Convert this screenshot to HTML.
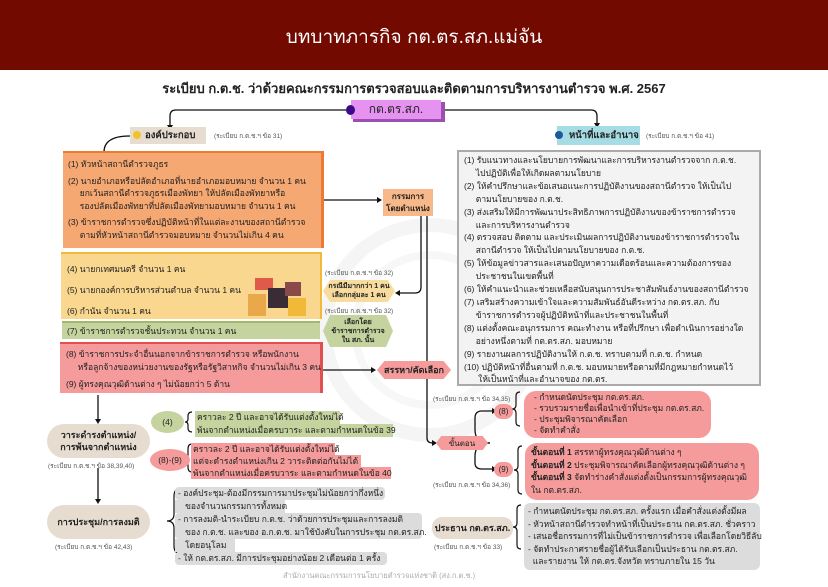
<!DOCTYPE html>
<html><head><meta charset="utf-8">
<style>
*{margin:0;padding:0;box-sizing:border-box}
body{width:828px;height:587px;background:#fff;position:relative;overflow:hidden;font-family:"Liberation Sans","DejaVu Sans",sans-serif;color:#222}
.a{position:absolute;white-space:nowrap}
.t{font-size:8.5px;line-height:12.5px}
.s{font-size:6.5px;color:#555}
.b{font-weight:bold}
.hex{position:absolute;display:flex;align-items:center;justify-content:center;text-align:center;font-weight:bold;font-size:7px;line-height:9px;clip-path:polygon(10% 0,90% 0,100% 50%,90% 100%,10% 100%,0 50%)}
.pill{position:absolute;border-radius:18px;display:flex;align-items:center;justify-content:center;text-align:center;font-weight:bold;font-size:9px;line-height:12px;background:#e6ddd0}
</style></head><body>
<div class="a" style="left:0;top:0;width:828px;height:70px;background:#730a00"></div>
<div class="a" style="left:0;top:22px;width:828px;text-align:center;color:#fff;font-size:19px">บทบาทภารกิจ กต.ตร.สภ.แม่จัน</div>
<div class="a b" style="left:0;top:78px;width:828px;text-align:center;font-size:13px">ระเบียบ ก.ต.ช. ว่าด้วยคณะกรรมการตรวจสอบและติดตามการบริหารงานตำรวจ พ.ศ. 2567</div>

<svg class="a" style="left:0;top:0" width="828" height="587">
<circle cx="430" cy="330" r="105" fill="none" stroke="#f5f5f5" stroke-width="14"/>
<circle cx="430" cy="330" r="75" fill="none" stroke="#f7f7f7" stroke-width="8"/>
<g fill="none" stroke="#111" stroke-width="1.3">
<path d="M351 110 H176 Q170 110 170 116 V126"/>
<path d="M443 110 H591 Q597 110 597 116 V124"/>
<path d="M130 136 Q104 136 104 152"/>
<path d="M322 200 H378"/>
<path d="M421 215 V287 Q421 293 415 293 H398"/>
<path d="M323 370 H372"/>
<path d="M427 215 V438 Q427 443 433 443"/>
<path d="M490 443 Q475 443 475 430 V418 Q475 411 482 411 H493"/>
<path d="M490 443 Q475 443 475 456 V463 Q475 469 482 469 H493"/>
<path d="M98 395 V420"/>
<path d="M98 468 V500"/>
</g>
<g fill="#111">
<path d="M170 130 l-3 -5 h6z"/><path d="M597 128 l-3 -5 h6z"/>
<path d="M382 200 l-5 -3 v6z"/><path d="M395 293 l5 -3 v6z"/>
<path d="M376 370 l-5 -3 v6z"/><path d="M437 443 l-5 -3 v6z"/>
<path d="M497 411 l-5 -3 v6z"/><path d="M497 469 l-5 -3 v6z"/>
<path d="M98 424 l-3 -5 h6z"/><path d="M98 504 l-3 -5 h6z"/>
</g>
<g fill="none" stroke="#111" stroke-width="1.2">
<path d="M192 412 q-4 0 -4 4 v3 q0 3 -3 3 q3 0 3 3 v3 q0 4 4 4"/>
<path d="M192 444 q-4 0 -4 5 v6 q0 3 -3 3 q3 0 3 3 v6 q0 5 4 5"/>
<path d="M182 488 q-8 0 -8 8 v18 q0 7 -7 7 q7 0 7 7 v18 q0 8 8 8"/>
<path d="M520 392 q-4 0 -4 4 v9 q0 4 -4 4 q4 0 4 4 v9 q0 4 4 4"/>
<path d="M522 446 q-4 0 -4 4 v16 q0 4 -4 4 q4 0 4 4 v16 q0 4 4 4"/>
<path d="M521 505 q-4 0 -4 4 v14 q0 4 -4 4 q4 0 4 4 v14 q0 4 4 4"/>
</g>
</svg>

<div class="a" style="left:353px;top:102px;width:92px;height:20px;background:#9b4fb0"></div>
<div class="a" style="left:351px;top:100px;width:90px;height:19px;background:#e592f0;font-size:12px;text-align:center;line-height:19px">กต.ตร.สภ.</div>
<div class="a" style="left:346px;top:105px;width:9px;height:10px;border-radius:50%;background:#3b0a8a"></div>

<div class="a b" style="left:130px;top:127px;width:76px;height:17px;background:#e6ddd0;font-size:9.5px;line-height:17px;padding-left:15px">องค์ประกอบ</div>
<div class="a" style="left:133px;top:131px;width:8px;height:8px;border-radius:50%;background:#f2c12e"></div>
<div class="a s" style="left:214px;top:131px">(ระเบียบ ก.ต.ช.ฯ ข้อ 31)</div>

<div class="a b" style="left:557px;top:126px;width:83px;height:19px;background:#a6dce4;font-size:9.5px;line-height:19px;padding-left:12px">หน้าที่และอำนาจ</div>
<div class="a" style="left:555px;top:131px;width:8px;height:8px;border-radius:50%;background:#1e5a99"></div>
<div class="a s" style="left:646px;top:131px">(ระเบียบ ก.ต.ช.ฯ ข้อ 41)</div>

<div class="a t" style="left:63px;top:151px;width:258px;height:97px;background:#f6a872;border-top:2px solid #ec7a32;box-shadow:3px 0 0 #ec7a32;padding:5px 0 0 5px">(1) หัวหน้าสถานีตำรวจภูธร<br><span style="line-height:4px;display:block;height:4px"></span>(2) นายอำเภอหรือปลัดอำเภอที่นายอำเภอมอบหมาย จำนวน 1 คน<br>&nbsp;&nbsp;&nbsp;&nbsp;&nbsp;ยกเว้นสถานีตำรวจภูธรเมืองพัทยา ให้ปลัดเมืองพัทยาหรือ<br>&nbsp;&nbsp;&nbsp;&nbsp;&nbsp;รองปลัดเมืองพัทยาที่ปลัดเมืองพัทยามอบหมาย จำนวน 1 คน<br><span style="line-height:4px;display:block;height:4px"></span>(3) ข้าราชการตำรวจซึ่งปฏิบัติหน้าที่ในแต่ละงานของสถานีตำรวจ<br>&nbsp;&nbsp;&nbsp;&nbsp;&nbsp;ตามที่หัวหน้าสถานีตำรวจมอบหมาย จำนวนไม่เกิน 4 คน</div>
<div class="a t" style="left:61px;top:252px;width:259px;height:67px;background:#f9d78e;border-top:2px solid #f1b93a;box-shadow:2px 0 0 #f1b93a;padding:5px 0 0 6px;line-height:21px">(4) นายกเทศมนตรี จำนวน 1 คน<br>(5) นายกองค์การบริหารส่วนตำบล จำนวน 1 คน<br>(6) กำนัน จำนวน 1 คน</div>
<div class="a" style="left:255px;top:278px;width:18px;height:12px;background:#e05a4a"></div>
<div class="a" style="left:268px;top:288px;width:20px;height:20px;background:#3a2c35"></div>
<div class="a" style="left:248px;top:294px;width:18px;height:22px;background:#e9a84a"></div>
<div class="a" style="left:285px;top:282px;width:16px;height:14px;background:#8a4a4a"></div>
<div class="a" style="left:288px;top:298px;width:18px;height:18px;background:#f1b93a"></div>
<div class="a t" style="left:62px;top:321px;width:258px;height:18px;background:#c5d49e;border-top:2px solid #a3b86a;padding:2px 0 0 5px">(7) ข้าราชการตำรวจชั้นประทวน จำนวน 1 คน</div>
<div class="a t" style="left:60px;top:342px;width:260px;height:51px;background:#f59b9b;border-top:2px solid #e05050;box-shadow:3px 0 0 #e05050;padding:4px 0 0 6px">(8) ข้าราชการประจำอื่นนอกจากข้าราชการตำรวจ หรือพนักงาน<br>&nbsp;&nbsp;&nbsp;&nbsp;&nbsp;หรือลูกจ้างของหน่วยงานของรัฐหรือรัฐวิสาหกิจ จำนวนไม่เกิน 3 คน<br><span style="display:block;height:5px"></span>(9) ผู้ทรงคุณวุฒิด้านต่าง ๆ ไม่น้อยกว่า 5 ด้าน</div>

<div class="a b" style="left:383px;top:189px;width:50px;height:27px;background:#f8b98a;font-size:8px;line-height:12px;text-align:center;padding-top:2px">กรรมการ<br>โดยตำแหน่ง</div>
<div class="a s" style="left:325px;top:268px">(ระเบียบ ก.ต.ช.ฯ ข้อ 32)</div>
<div class="hex" style="left:323px;top:280px;width:72px;height:22px;background:#f8dc9e">กรณีมีมากกว่า 1 คน<br>เลือกกลุ่มละ 1 คน</div>
<div class="a s" style="left:325px;top:306px">(ระเบียบ ก.ต.ช.ฯ ข้อ 32)</div>
<div class="hex" style="left:323px;top:315px;width:70px;height:32px;background:#c5d49e">เลือกโดย<br>ข้าราชการตำรวจ<br>ใน สภ. นั้น</div>
<div class="hex" style="left:377px;top:361px;width:74px;height:18px;background:#f59b9b;font-size:9px;color:#222">สรรหา/คัดเลือก</div>
<div class="hex" style="left:436px;top:436px;width:52px;height:14px;background:#f59b9b;font-weight:normal;font-size:8px">ขั้นตอน</div>

<div class="a t" style="left:457px;top:150px;width:304px;height:236px;background:#f3f3f3;border:2px solid #aaa;padding:2px 0 0 5px;line-height:12.9px">(1) รับแนวทางและนโยบายการพัฒนาและการบริหารงานตำรวจจาก ก.ต.ช.<br>&nbsp;&nbsp;&nbsp;&nbsp;&nbsp;ไปปฏิบัติเพื่อให้เกิดผลตามนโยบาย<br>(2) ให้คำปรึกษาและข้อเสนอแนะการปฏิบัติงานของสถานีตำรวจ ให้เป็นไป<br>&nbsp;&nbsp;&nbsp;&nbsp;&nbsp;ตามนโยบายของ ก.ต.ช.<br>(3) ส่งเสริมให้มีการพัฒนาประสิทธิภาพการปฏิบัติงานของข้าราชการตำรวจ<br>&nbsp;&nbsp;&nbsp;&nbsp;&nbsp;และการบริหารงานตำรวจ<br>(4) ตรวจสอบ ติดตาม และประเมินผลการปฏิบัติงานของข้าราชการตำรวจใน<br>&nbsp;&nbsp;&nbsp;&nbsp;&nbsp;สถานีตำรวจ ให้เป็นไปตามนโยบายของ ก.ต.ช.<br>(5) ให้ข้อมูลข่าวสารและเสนอปัญหาความเดือดร้อนและความต้องการของ<br>&nbsp;&nbsp;&nbsp;&nbsp;&nbsp;ประชาชนในเขตพื้นที่<br>(6) ให้คำแนะนำและช่วยเหลือสนับสนุนการประชาสัมพันธ์งานของสถานีตำรวจ<br>(7) เสริมสร้างความเข้าใจและความสัมพันธ์อันดีระหว่าง กต.ตร.สภ. กับ<br>&nbsp;&nbsp;&nbsp;&nbsp;&nbsp;ข้าราชการตำรวจผู้ปฏิบัติหน้าที่และประชาชนในพื้นที่<br>(8) แต่งตั้งคณะอนุกรรมการ คณะทำงาน หรือที่ปรึกษา เพื่อดำเนินการอย่างใด<br>&nbsp;&nbsp;&nbsp;&nbsp;&nbsp;อย่างหนึ่งตามที่ กต.ตร.สภ. มอบหมาย<br>(9) รายงานผลการปฏิบัติงานให้ ก.ต.ช. ทราบตามที่ ก.ต.ช. กำหนด<br>(10) ปฏิบัติหน้าที่อื่นตามที่ ก.ต.ช. มอบหมายหรือตามที่มีกฎหมายกำหนดไว้<br>&nbsp;&nbsp;&nbsp;&nbsp;&nbsp;&nbsp;ให้เป็นหน้าที่และอำนาจของ กต.ตร.</div>

<div class="a s" style="left:433px;top:394px">(ระเบียบ ก.ต.ช.ฯ ข้อ 34,35)</div>
<div class="a" style="left:494px;top:404px;width:19px;height:15px;border-radius:8px;background:#f59b9b;font-size:8px;text-align:center;line-height:15px">(8)</div>
<div class="a t" style="left:524px;top:391px;width:187px;height:47px;border-radius:12px;background:#f59b9b;padding:1px 0 0 10px;line-height:11px">- กำหนดนัดประชุม กต.ตร.สภ.<br>- รวบรวมรายชื่อเพื่อนำเข้าที่ประชุม กต.ตร.สภ.<br>- ประชุมพิจารณาคัดเลือก<br>- จัดทำคำสั่ง</div>
<div class="a" style="left:494px;top:462px;width:19px;height:15px;border-radius:8px;background:#f59b9b;font-size:8px;text-align:center;line-height:15px">(9)</div>
<div class="a s" style="left:433px;top:480px">(ระเบียบ ก.ต.ช.ฯ ข้อ 34,36)</div>
<div class="a t" style="left:525px;top:443px;width:234px;height:57px;border-radius:12px;background:#f59b9b;padding:3px 0 0 6px;line-height:12.5px"><b>ขั้นตอนที่ 1</b> สรรหาผู้ทรงคุณวุฒิด้านต่าง ๆ<br><b>ขั้นตอนที่ 2</b> ประชุมพิจารณาคัดเลือกผู้ทรงคุณวุฒิด้านต่าง ๆ<br><b>ขั้นตอนที่ 3</b> จัดทำร่างคำสั่งแต่งตั้งเป็นกรรมการผู้ทรงคุณวุฒิ<br>ใน กต.ตร.สภ.</div>
<div class="pill" style="left:432px;top:517px;width:81px;height:22px;border-radius:10px">ประธาน กต.ตร.สภ.</div>
<div class="a s" style="left:434px;top:542px">(ระเบียบ ก.ต.ช.ฯ ข้อ 33)</div>
<div class="a t" style="left:524px;top:503px;width:236px;height:67px;border-radius:6px;background:#dcdcdc;padding:2px 0 0 4px;line-height:12.5px">- กำหนดนัดประชุม กต.ตร.สภ. ครั้งแรก เมื่อคำสั่งแต่งตั้งมีผล<br>- หัวหน้าสถานีตำรวจทำหน้าที่เป็นประธาน กต.ตร.สภ. ชั่วคราว<br>- เสนอชื่อกรรมการที่ไม่เป็นข้าราชการตำรวจ เพื่อเลือกโดยวิธีลับ<br>- จัดทำประกาศรายชื่อผู้ได้รับเลือกเป็นประธาน กต.ตร.สภ.<br>&nbsp;&nbsp;และรายงาน ให้ กต.ตร.จังหวัด ทราบภายใน 15 วัน</div>

<div class="pill" style="left:47px;top:424px;width:103px;height:34px">วาระดำรงตำแหน่ง/<br>การพ้นจากตำแหน่ง</div>
<div class="a s" style="left:48px;top:461px">(ระเบียบ ก.ต.ช.ฯ ข้อ 38,39,40)</div>
<div class="pill" style="left:47px;top:505px;width:103px;height:34px">การประชุม/การลงมติ</div>
<div class="a s" style="left:55px;top:542px">(ระเบียบ ก.ต.ช.ฯ ข้อ 42,43)</div>
<div class="a" style="left:151px;top:411px;width:33px;height:22px;border-radius:50%;background:#c5d49e;font-size:8.5px;text-align:center;line-height:22px">(4)</div>
<div class="a t" style="left:195px;top:411px;width:145px;height:13px;background:#c5d49e;padding-left:2px">คราวละ 2 ปี และอาจได้รับแต่งตั้งใหม่ได้</div>
<div class="a t" style="left:195px;top:424px;width:198px;height:13px;background:#c5d49e;padding-left:2px">พ้นจากตำแหน่งเมื่อครบวาระ และตามกำหนดในข้อ 39</div>
<div class="a" style="left:150px;top:449px;width:40px;height:22px;border-radius:50%;background:#f59b9b;font-size:8.5px;text-align:center;line-height:22px">(8)-(9)</div>
<div class="a t" style="left:191px;top:443px;width:144px;height:12px;background:#f59b9b;padding-left:2px">คราวละ 2 ปี และอาจได้รับแต่งตั้งใหม่ได้</div>
<div class="a t" style="left:191px;top:455px;width:170px;height:12px;background:#f59b9b;padding-left:2px">แต่จะดำรงตำแหน่งเกิน 2 วาระติดต่อกันไม่ได้</div>
<div class="a t" style="left:191px;top:467px;width:200px;height:12px;background:#f59b9b;padding-left:2px">พ้นจากตำแหน่งเมื่อครบวาระ และตามกำหนดในข้อ 40</div>
<div class="a" style="left:175px;top:487px;width:210px;height:13px;background:#dcdcdc;border-radius:4px"></div>
<div class="a" style="left:175px;top:500px;width:110px;height:13px;background:#dcdcdc"></div>
<div class="a" style="left:175px;top:513px;width:247px;height:26px;background:#dcdcdc;border-radius:4px"></div>
<div class="a" style="left:175px;top:539px;width:60px;height:13px;background:#dcdcdc"></div>
<div class="a" style="left:175px;top:552px;width:212px;height:13px;background:#dcdcdc;border-radius:4px"></div>
<div class="a t" style="left:178px;top:487px;line-height:13px">- องค์ประชุม-ต้องมีกรรมการมาประชุมไม่น้อยกว่ากึ่งหนึ่ง<br>&nbsp;&nbsp;&nbsp;ของจำนวนกรรมการทั้งหมด<br>- การลงมติ-นำระเบียบ ก.ต.ช. ว่าด้วยการประชุมและการลงมติ<br>&nbsp;&nbsp;&nbsp;ของ ก.ต.ช. และของ อ.ก.ต.ช. มาใช้บังคับในการประชุม กต.ตร.สภ.<br>&nbsp;&nbsp;&nbsp;โดยอนุโลม<br>- ให้ กต.ตร.สภ. มีการประชุมอย่างน้อย 2 เดือนต่อ 1 ครั้ง</div>
<div class="a" style="left:283px;top:570px;font-size:7.5px;color:#aaa">สำนักงานคณะกรรมการนโยบายตำรวจแห่งชาติ (สง.ก.ต.ช.)</div>
</body></html>
